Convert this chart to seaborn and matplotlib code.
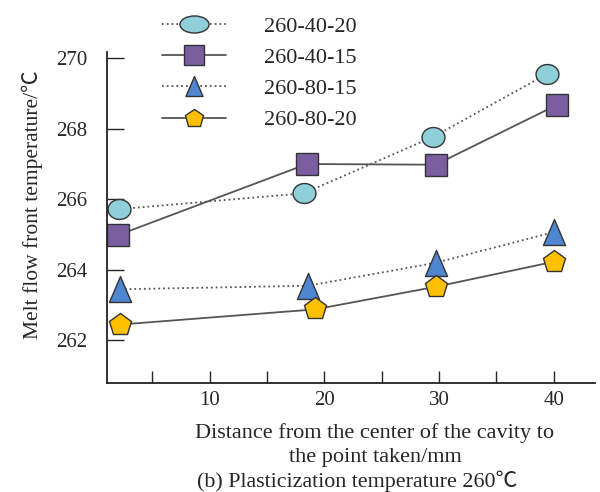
import numpy as np
import pandas as pd
import matplotlib
matplotlib.use("Agg")
import matplotlib.pyplot as plt
import seaborn as sns
from matplotlib.path import Path
from matplotlib.transforms import Affine2D
from matplotlib.ticker import MultipleLocator

# values
labels = ["260-40-20", "260-40-15", "260-80-15", "260-80-20"]
x_4020 = [2.1, 18.2, 29.5, 39.4]
y_4020 = [265.72, 266.17, 267.77, 269.55]
x_4015 = [2.0, 18.5, 29.7, 40.3]
y_4015 = [264.98, 267.0, 266.98, 268.68]
x_8015 = [2.2, 18.6, 29.7, 40.0]
y_8015 = [263.45, 263.55, 264.2, 265.07]
x_8020 = [2.2, 19.2, 29.7, 40.0]
y_8020 = [262.45, 262.88, 263.52, 264.23]

sns.set_style("ticks")
plt.rcParams["font.family"] = ["Liberation Serif", "Noto Sans CJK SC"]

ellipse = Path.unit_circle().transformed(Affine2D().scale(1.15, 1.0))
ellipse_wide = Path.unit_circle().transformed(Affine2D().scale(1.7, 1.0))
tri = Path([(-0.85, -1), (0.85, -1), (0, 1), (-0.85, -1)],
           [Path.MOVETO, Path.LINETO, Path.LINETO, Path.CLOSEPOLY])
styles = [
    dict(marker=ellipse, mfc="#8ecfda", ls=":", ms=16.5),
    dict(marker="s", mfc="#7b5ea0", ls="-", ms=15.8),
    dict(marker=tri, mfc="#4f86d0", ls=":", ms=18.7),
    dict(marker="p", mfc="#ffc000", ls="-", ms=16.6),
]
legend_ms = [(ellipse_wide, 20.9), ("s", 14.4), (tri, 14.4), ("p", 13.6)]
series = [(x_4020, y_4020), (x_4015, y_4015), (x_8015, y_8015), (x_8020, y_8020)]

fig = plt.figure(figsize=(6, 4.92), dpi=100)
ax = fig.add_axes([0.178, 0.222, 0.814, 0.672])

for lab, (xs, ys), st in zip(labels, series, styles):
    df = pd.DataFrame({"x": xs, "y": ys})
    sns.lineplot(data=df, x="x", y="y", ax=ax, label=lab, color="#555555",
                 linestyle=st["ls"], linewidth=1.3, marker=st["marker"],
                 markersize=st["ms"], markerfacecolor=st["mfc"],
                 markeredgecolor="#333333", markeredgewidth=1.0)

ax.set_xlim(1.05, 43.6)
ax.set_ylim(260.8, 270.17)
ax.set_xticks([10, 20, 30, 40])
ax.xaxis.set_minor_locator(MultipleLocator(5))
ax.set_yticks([262, 264, 266, 268, 270])
ax.tick_params(axis="x", which="both", direction="in", length=9, width=1,
               labelsize=15, pad=6)
ax.tick_params(axis="y", direction="in", length=12, width=1, labelsize=15, pad=14)
sns.despine(ax=ax)
for s in ["left", "bottom"]:
    ax.spines[s].set_linewidth(1.3)
    ax.spines[s].set_color("#222222")

ax.set_xlabel("Distance from the center of the cavity to\nthe point taken/mm",
              fontsize=16, linespacing=1.35)
ax.xaxis.set_label_coords(0.549, -0.122)
ax.set_ylabel("Melt flow front temperature/\u2103", fontsize=15.5)
ax.yaxis.set_label_coords(-0.131, 0.538)
fig.text(0.595, 0.022, "(b) Plasticization temperature 260\u2103",
         ha="center", va="center", fontsize=15.8)

leg = ax.legend(loc="upper left", bbox_to_anchor=(0.27, 0.967),
                bbox_transform=fig.transFigure, frameon=False, fontsize=16,
                handlelength=2.9, handletextpad=1.67, labelspacing=0.48,
                borderaxespad=0, borderpad=0)
for h, (m, ms) in zip(leg.legend_handles, legend_ms):
    h.set_marker(m)
    h.set_markersize(ms)

fig.savefig("out.png", dpi=100)
